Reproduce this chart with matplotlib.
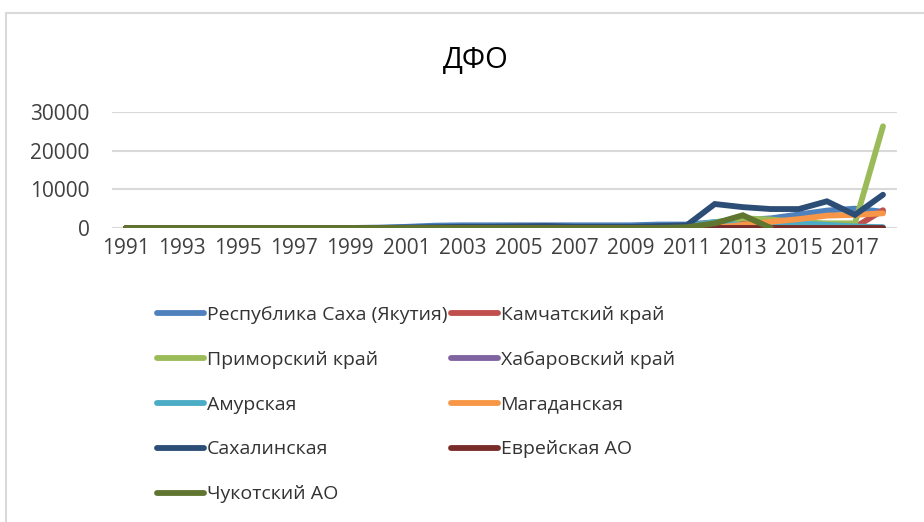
import matplotlib
matplotlib.use('Agg')
import matplotlib.pyplot as plt
from matplotlib.patches import Rectangle
import numpy as np

nan = np.nan
years = list(range(1991, 2019))
tick_years = [str(y) for y in range(1991, 2018, 2)]

names = ['Республика Саха (Якутия)', 'Камчатский край', 'Приморский край',
         'Хабаровский край', 'Амурская', 'Магаданская', 'Сахалинская',
         'Еврейская АО', 'Чукотский АО']
colors = ['#4F81BD', '#C0504D', '#9BBB59', '#8064A2', '#4BACC6',
          '#F79646', '#2C4D75', '#772C2A', '#5F7530']

# values, 1991..2018
yakutia = [0, 0, 0, 0, 0, 0, 0, 0, 0, 100, 300, 600, 700, 700, 700, 700, 700, 700, 700,
           900, 900, 1500, 2000, 2500, 3500, 4500, 5000, 4200]
kamchatka = [0, 0, 0, 0, 0, 0, 0, 0, 0, 0, 0, 0, 0, 0, 0, 0, 0, 0, 0,
             0, 100, 800, 1700, 1500, 1200, 800, 200, 4600]
primorsky = [0, 0, 0, 0, 0, 0, 0, 0, 0, 0, 0, 0, 0, 0, 0, 0, 0, 0, 0,
             100, 300, 1500, 2500, 2200, 1500, 1200, 1200, 26300]
khabarovsk = [0, 0, 0, 0, 0, 0, 0, 0, 0, 0, 0, 0, 0, 0, 200, 300, 200, 100, 100,
              100, 100, 100, 100, 100, 150, 200, 100, 100]
amur = [0, 0, 0, 0, 0, 0, 0, 0, 0, 0, 0, 0, 0, 0, 0, 0, 0, 0, 0,
        100, 300, 1500, 700, 800, 1200, 800, 400, 200]
magadan = [0, 0, 0, 0, 0, 0, 0, 0, 0, 0, 0, 0, 0, 0, 0, 0, 0, 0, 0,
           0, 0, 100, 800, 1600, 2300, 3200, 3400, 3800]
sakhalin = [0, 0, 0, 0, 0, 0, 0, 0, 0, 0, 100, 200, 300, 300, 400, 500, 300, 300, 300,
            500, 700, 6200, 5400, 4900, 4900, 6900, 3400, 8600]
evreiskaya = [0, 0, 0, 0, 0, 0, 0, 0, 0, 0, 0, 0, 0, 0, 0, 0, 0, 0, 0,
              0, 0, 0, 0, 0, 0, 0, 0, 0]
chukotka = [0, 0, 0, 0, 0, 0, 0, 0, 0, 0, 0, 0, 0, 0, 0, 0, 0, 0, 0,
            0, 200, 1200, 3300, 0, nan, nan, nan, nan]

series = [yakutia, kamchatka, primorsky, khabarovsk, amur, magadan,
          sakhalin, evreiskaya, chukotka]

plt.rcParams['font.family'] = ['Open Sans', 'DejaVu Sans']

dpi = 100
fig = plt.figure(figsize=(924 / dpi, 522 / dpi), dpi=dpi)
fig.patches.append(Rectangle((6 / 924, -0.1), 1.2, 0.975 + 0.1, transform=fig.transFigure,
                             fill=False, edgecolor='#d9d9d9', linewidth=1.5))

ax = fig.add_axes([112 / 924, 1 - 228 / 522, (897 - 112) / 924, (228 - 112) / 522])

lines = []
for vals, name, c in zip(series, names, colors):
    ln, = ax.plot(years, vals, color=c, linewidth=4.2, label=name,
                  solid_capstyle='round', solid_joinstyle='miter')
    lines.append(ln)

ax.set_xlim(1990.5, 2018.5)
ax.set_ylim(0, 30000)
ax.set_yticks([0, 10000, 20000, 30000])
ax.set_yticklabels(['0', '10000', '20000', '30000'])
ax.set_xticks(range(1991, 2018, 2))
ax.set_xticklabels(tick_years)
ax.tick_params(axis='both', length=0, labelsize=15, colors='#404040')
ax.tick_params(axis='y', pad=16)
ax.tick_params(axis='x', pad=7)
ax.grid(axis='y', color='#d9d9d9', linewidth=1.5)
ax.set_axisbelow(True)
for s in ax.spines.values():
    s.set_visible(False)

fig.text(476 / 924, 1 - 60 / 522, 'ДФО', ha='center', va='center', fontsize=21, color='black')

order = [0, 2, 4, 6, 8, 1, 3, 5, 7]
fig.legend([lines[i] for i in order], [names[i] for i in order],
           loc='upper left', bbox_to_anchor=(157 / 924, 1 - 306 / 522),
           ncol=2, frameon=False, fontsize=14, handlelength=2.4,
           handletextpad=0.15, columnspacing=0.2, labelspacing=1.38,
           borderpad=0, borderaxespad=0, labelcolor='#333333')

fig.savefig('out.png', dpi=dpi)
